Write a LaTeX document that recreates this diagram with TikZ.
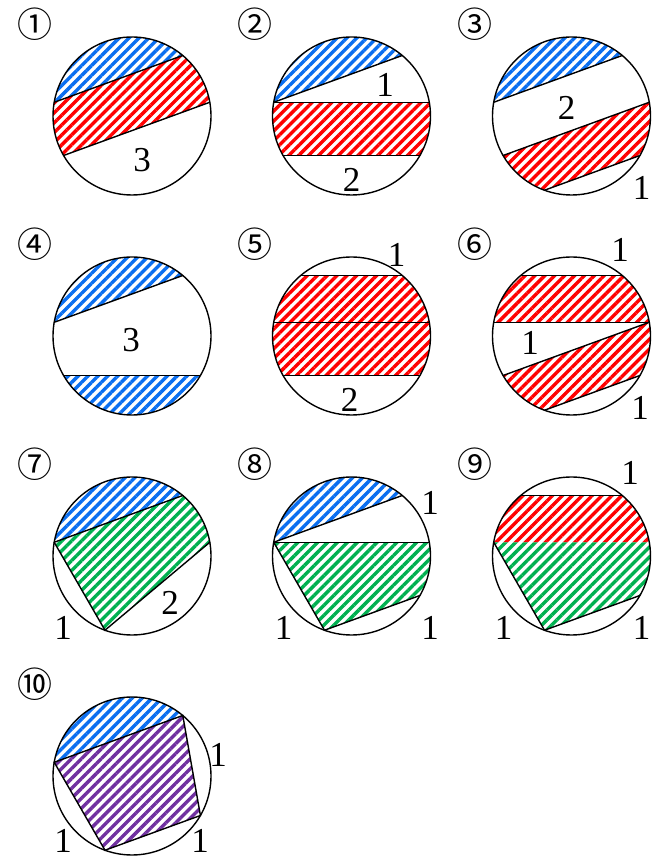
\documentclass[tikz,border=0pt]{standalone}
\usepackage{fontspec}
\setmainfont{Liberation Serif}
\newfontfamily\circfont{Noto Sans CJK JP}
\usepackage{tikz}
\usetikzlibrary{patterns.meta}
\definecolor{HatchBlue}{HTML}{0A6EF0}
\definecolor{HatchRed}{HTML}{FF0000}
\definecolor{HatchGreen}{HTML}{00B050}
\definecolor{HatchPurple}{HTML}{7030A0}
\tikzset{
  hatch/.style={pattern={Lines[angle=45,distance=7pt,line width=3.4pt]},pattern color=#1},
  rim/.style={draw=black,line width=1.4pt},
  chord/.style={draw=black,line width=1.4pt,line cap=round},
  numlabel/.style={font=\fontsize{35}{35}\selectfont,inner sep=0pt},
  caselabel/.style={font=\circfont\fontsize{35}{35}\selectfont,inner sep=0pt}
}
% nine points on the rim, every 40 degrees
\newcommand{\rimpoints}{\foreach \a in {10,50,...,330} \coordinate (v\a) at (\a:79);}

\begin{document}
\begin{tikzpicture}[x=1pt,y=1pt]
  \useasboundingbox (0,0) rectangle (657,860);

  % row 1
  \begin{scope}[shift={(132,744)}]
    \rimpoints
    \fill[hatch=HatchBlue] (v50) arc[start angle=50,end angle=170,radius=79pt] -- cycle;
    \fill[hatch=HatchRed] (v50) arc[start angle=50,end angle=10,radius=79pt] -- (v210) arc[start angle=210,end angle=170,radius=79pt] -- cycle;
    \draw[chord] (v170) -- (v50);
    \draw[chord] (v210) -- (v10);
    \draw[rim] (0,0) circle[radius=79pt];
    \node[caselabel] (case1) at (-97,92) {①};
    \node[numlabel] (n1a) at (10,-44) {3};
  \end{scope}

  \begin{scope}[shift={(351.5,744)}]
    \rimpoints
    \fill[hatch=HatchBlue] (v50) arc[start angle=50,end angle=170,radius=79pt] -- cycle;
    \fill[hatch=HatchRed] (v170) -- (v10) arc[start angle=10,end angle=-30,radius=79pt] -- (v210) arc[start angle=210,end angle=170,radius=79pt] -- cycle;
    \draw[chord] (v170) -- (v50);
    \draw[chord] (v170) -- (v10);
    \draw[chord] (v210) -- (v330);
    \draw[rim] (0,0) circle[radius=79pt];
    \node[caselabel] (case2) at (-97,92) {②};
    \node[numlabel] (n2a) at (33.5,31) {1};
    \node[numlabel] (n2b) at (0,-64) {2};
  \end{scope}

  \begin{scope}[shift={(571.5,744)}]
    \rimpoints
    \fill[hatch=HatchBlue] (v50) arc[start angle=50,end angle=170,radius=79pt] -- cycle;
    \fill[hatch=HatchRed] (v210) -- (v10) arc[start angle=10,end angle=-30,radius=79pt] -- (v250) arc[start angle=250,end angle=210,radius=79pt] -- cycle;
    \draw[chord] (v170) -- (v50);
    \draw[chord] (v210) -- (v10);
    \draw[chord] (v250) -- (v330);
    \draw[rim] (0,0) circle[radius=79pt];
    \node[caselabel] (case3) at (-97,92) {③};
    \node[numlabel] (n3a) at (-5,8) {2};
    \node[numlabel] (n3b) at (70,-72) {1};
  \end{scope}

  % row 2
  \begin{scope}[shift={(132,524)}]
    \rimpoints
    \fill[hatch=HatchBlue] (v50) arc[start angle=50,end angle=170,radius=79pt] -- cycle;
    \fill[hatch=HatchBlue] (v210) arc[start angle=210,end angle=330,radius=79pt] -- cycle;
    \draw[chord] (v170) -- (v50);
    \draw[chord] (v210) -- (v330);
    \draw[rim] (0,0) circle[radius=79pt];
    \node[caselabel] (case4) at (-97,92) {④};
    \node[numlabel] (n4a) at (-1,-4) {3};
  \end{scope}

  \begin{scope}[shift={(351.5,524)}]
    \rimpoints
    \fill[hatch=HatchRed] (v130) -- (v50) arc[start angle=50,end angle=-30,radius=79pt] -- (v210) arc[start angle=210,end angle=130,radius=79pt] -- cycle;
    \draw[chord] (v130) -- (v50);
    \draw[chord] (v170) -- (v10);
    \draw[chord] (v210) -- (v330);
    \draw[rim] (0,0) circle[radius=79pt];
    \node[caselabel] (case5) at (-97,92) {⑤};
    \node[numlabel] (n5a) at (45,81) {1};
    \node[numlabel] (n5b) at (-2,-64) {2};
  \end{scope}

  \begin{scope}[shift={(571.5,524)}]
    \rimpoints
    \fill[hatch=HatchRed] (v130) -- (v50) arc[start angle=50,end angle=10,radius=79pt] -- (v170) arc[start angle=170,end angle=130,radius=79pt] -- cycle;
    \fill[hatch=HatchRed] (v210) -- (v10) arc[start angle=10,end angle=-30,radius=79pt] -- (v250) arc[start angle=250,end angle=210,radius=79pt] -- cycle;
    \draw[chord] (v130) -- (v50);
    \draw[chord] (v170) -- (v10);
    \draw[chord] (v210) -- (v10);
    \draw[chord] (v250) -- (v330);
    \draw[rim] (0,0) circle[radius=79pt];
    \node[caselabel] (case6) at (-97,92) {⑥};
    \node[numlabel] (n6a) at (48.5,86) {1};
    \node[numlabel] (n6b) at (-41.5,-7) {1};
    \node[numlabel] (n6c) at (68.5,-72) {1};
  \end{scope}

  % row 3
  \begin{scope}[shift={(132,304)}]
    \rimpoints
    \fill[hatch=HatchBlue] (v50) arc[start angle=50,end angle=170,radius=79pt] -- cycle;
    \fill[hatch=HatchGreen] (v170) -- (v50) arc[start angle=50,end angle=10,radius=79pt] -- (v250) -- cycle;
    \draw[chord] (v170) -- (v50);
    \draw[chord] (v10) -- (v250) -- (v170);
    \draw[rim] (0,0) circle[radius=79pt];
    \node[caselabel] (case7) at (-97,92) {⑦};
    \node[numlabel] (n7a) at (-69,-72) {1};
    \node[numlabel] (n7b) at (38,-47) {2};
  \end{scope}

  \begin{scope}[shift={(351.5,304)}]
    \rimpoints
    \fill[hatch=HatchBlue] (v50) arc[start angle=50,end angle=170,radius=79pt] -- cycle;
    \fill[hatch=HatchGreen] (v170) -- (v10) arc[start angle=10,end angle=-30,radius=79pt] -- (v250) -- cycle;
    \draw[chord] (v170) -- (v50);
    \draw[chord] (v170) -- (v10);
    \draw[chord] (v330) -- (v250) -- (v170);
    \draw[rim] (0,0) circle[radius=79pt];
    \node[caselabel] (case8) at (-97,92) {⑧};
    \node[numlabel] (n8a) at (78.5,53) {1};
    \node[numlabel] (n8b) at (-68,-72) {1};
    \node[numlabel] (n8c) at (78.5,-72) {1};
  \end{scope}

  \begin{scope}[shift={(571.5,304)}]
    \rimpoints
    \fill[hatch=HatchRed] (v130) -- (v50) arc[start angle=50,end angle=10,radius=79pt] -- (v170) arc[start angle=170,end angle=130,radius=79pt] -- cycle;
    \fill[hatch=HatchGreen] (v170) -- (v10) arc[start angle=10,end angle=-30,radius=79pt] -- (v250) -- cycle;
    \draw[chord] (v130) -- (v50);
    \draw[chord] (v330) -- (v250) -- (v170);
    \draw[rim] (0,0) circle[radius=79pt];
    \node[caselabel] (case9) at (-97,92) {⑨};
    \node[numlabel] (n9a) at (58.5,83) {1};
    \node[numlabel] (n9b) at (-68,-72) {1};
    \node[numlabel] (n9c) at (70,-72) {1};
  \end{scope}

  % row 4
  \begin{scope}[shift={(132,84)}]
    \rimpoints
    \fill[hatch=HatchBlue] (v50) arc[start angle=50,end angle=170,radius=79pt] -- cycle;
    \fill[hatch=HatchPurple] (v170) -- (v50) -- (v330) -- (v250) -- cycle;
    \draw[chord] (v170) -- (v50) -- (v330) -- (v250) -- cycle;
    \draw[rim] (0,0) circle[radius=79pt];
    \node[caselabel] (case10) at (-97,92) {⑩};
    \node[numlabel] (n10a) at (86,21) {1};
    \node[numlabel] (n10b) at (-69,-65) {1};
    \node[numlabel] (n10c) at (68,-65) {1};
  \end{scope}
\end{tikzpicture}
\end{document}
